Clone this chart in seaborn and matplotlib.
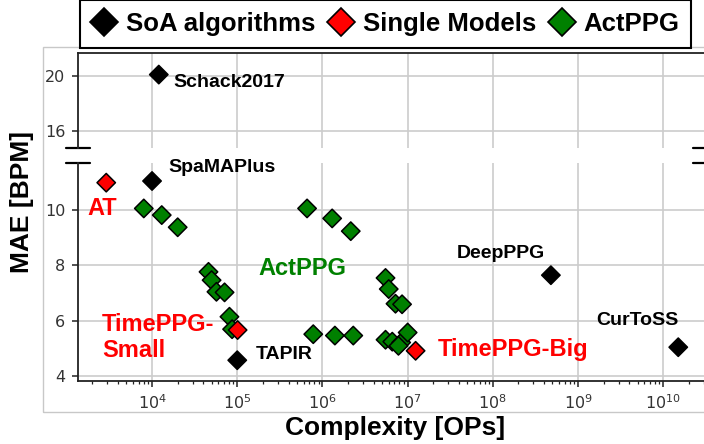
import numpy as np
import pandas as pd
import matplotlib
matplotlib.use("Agg")
import matplotlib.pyplot as plt
from matplotlib.lines import Line2D
from matplotlib.patches import Rectangle
import seaborn as sns

# данные
soa_names = ["Schack2017", "SpaMAPlus", "TAPIR", "DeepPPG", "CurToSS"]
soa_ops = [1.2e4, 1.0e4, 1.0e5, 4.8e8, 1.5e10]
soa_mae = [20.1, 11.05, 4.58, 7.65, 5.05]

single_names = ["AT", "TimePPG-Small", "TimePPG-Big"]
single_ops = [2.9e3, 1.01e5, 1.24e7]
single_mae = [10.99, 5.67, 4.92]

actppg_ops = [8.0e3, 1.3e4, 2.0e4, 4.6e4, 5.0e4, 5.7e4, 7.1e4, 8.1e4, 8.7e4,
              6.6e5, 1.3e6, 2.15e6, 7.8e5, 1.4e6, 2.3e6,
              5.5e6, 6.0e6, 7.2e6, 8.6e6, 5.5e6, 6.6e6, 8.4e6, 1.0e7, 7.8e6]
actppg_mae = [10.06, 9.82, 9.38, 7.77, 7.47, 7.05, 7.03, 6.15, 5.7,
              10.06, 9.7, 9.24, 5.52, 5.47, 5.47,
              7.55, 7.15, 6.62, 6.6, 5.32, 5.25, 5.22, 5.58, 5.1]

group_order = ["SoA algorithms", "Single Models", "ActPPG"]
colors = {"SoA algorithms": "black", "Single Models": "#ff0000", "ActPPG": "#008000"}

# подписи: (текст, x, y, цвет, размер, панель)
labels = [
    ("Schack2017", 1.77e4, 19.5, "black", 14, "top"),
    ("SpaMAPlus", 1.55e4, 11.52, "black", 14, "bot"),
    ("TAPIR", 1.66e5, 4.77, "black", 14, "bot"),
    ("DeepPPG", 3.78e7, 8.44, "black", 14, "bot"),
    ("CurToSS", 1.62e9, 6.0, "black", 14, "bot"),
    ("AT", 1.73e3, 10.07, "#ff0000", 17, "bot"),
    ("TimePPG-\nSmall", 2.6e3, 5.4, "#ff0000", 17, "bot"),
    ("TimePPG-Big", 2.25e7, 4.95, "#ff0000", 17, "bot"),
    ("ActPPG", 1.76e5, 7.9, "#008000", 17, "bot"),
]

df = pd.concat([
    pd.DataFrame({"ops": actppg_ops, "mae": actppg_mae, "group": "ActPPG"}),
    pd.DataFrame({"ops": single_ops, "mae": single_mae, "group": "Single Models"}),
    pd.DataFrame({"ops": soa_ops, "mae": soa_mae, "group": "SoA algorithms"}),
], ignore_index=True)

sns.set_style("whitegrid")
plt.rcParams["font.family"] = ["Liberation Sans", "DejaVu Sans"]
plt.rcParams["text.color"] = "black"

W, H = 704, 444
fig = plt.figure(figsize=(W / 100, H / 100), dpi=100)

left = 78 / W
width = (705 - 78) / W
ax_top = fig.add_axes([left, 1 - 148 / H, width, 95 / H])
ax_bot = fig.add_axes([left, 1 - 381 / H, width, 218 / H])

for ax in (ax_top, ax_bot):
    sns.scatterplot(data=df, x="ops", y="mae", hue="group", palette=colors,
                    marker="D", s=88, edgecolor="black", linewidth=1.1,
                    legend=False, ax=ax, zorder=3)
    ax.set_xscale("log")
    ax.set_xlim(10 ** 3.131, 10 ** 10.49)
    ax.set_xlabel("")
    ax.set_ylabel("")
    ax.grid(True, which="major", color="#cccccc", lw=1.2)
    ax.grid(False, which="minor")
    for sp in ax.spines.values():
        sp.set_color("#222222")
        sp.set_linewidth(1.3)
    ax.tick_params(axis="y", left=True, length=4, width=1.1, pad=5,
                   labelsize=11.5, labelcolor="#333333", color="#222222")

ax_top.set_ylim(14.76, 21.67)
ax_top.set_yticks([16, 20])
ax_top.spines["bottom"].set_visible(False)
ax_top.tick_params(axis="x", which="both", bottom=False, labelbottom=False)

ax_bot.set_ylim(3.83, 11.70)
ax_bot.set_yticks([4, 6, 8, 10])
ax_bot.spines["top"].set_visible(False)
ax_bot.set_xticks([1e4, 1e5, 1e6, 1e7, 1e8, 1e9, 1e10])
ax_bot.tick_params(axis="x", which="major", bottom=True, length=4, width=1.1,
                   labelsize=11.5, labelcolor="#333333", color="#222222", pad=5)
ax_bot.tick_params(axis="x", which="minor", bottom=True, length=2.5, width=0.9,
                   color="#222222")
for ax in (ax_top, ax_bot):
    for t in ax.get_yticklabels():
        t.set_fontfamily("DejaVu Sans")
for t in ax_bot.get_xticklabels():
    t.set_fontfamily("DejaVu Sans")

# значки разрыва оси
d = 12 / (705 - 78)
for x0 in (0, 1):
    ax_top.plot([x0 - d, x0 + d], [0, 0], transform=ax_top.transAxes,
                color="black", lw=1.6, clip_on=False)
    ax_bot.plot([x0 - d, x0 + d], [1, 1], transform=ax_bot.transAxes,
                color="black", lw=1.6, clip_on=False)

for text, x, y, c, fs, where in labels:
    ax = ax_top if where == "top" else ax_bot
    ax.text(x, y, text, color=c, fontsize=fs, fontweight="bold",
            ha="left", va="center", zorder=4)

# рамка вокруг области графика
fig.patches.append(Rectangle((43 / W, 1 - 412 / H), (W - 43) / W + 0.01, (412 - 47) / H,
                             transform=fig.transFigure, fill=False,
                             edgecolor="#c8c8c8", lw=1.0, zorder=0))

fig.text(395 / W, 1 - 428 / H, "Complexity [OPs]", ha="center", va="center",
         fontsize=19, fontweight="bold", color="black")
fig.text(22 / W, 1 - 202 / H, "MAE [BPM]", ha="center", va="center",
         rotation=90, fontsize=19, fontweight="bold", color="black")

handles = [Line2D([], [], linestyle="none", marker="D", markersize=14,
                  markerfacecolor=colors[g], markeredgecolor="black",
                  markeredgewidth=1.2) for g in group_order]
leg = fig.legend(handles, group_order, loc="center",
                 bbox_to_anchor=(385.5 / W, 1 - 24 / H), ncol=3,
                 prop={"family": "Liberation Sans", "weight": "bold", "size": 18.5},
                 handlelength=1.0, handletextpad=0.35, columnspacing=0.5,
                 borderpad=0.45, fancybox=False, framealpha=1)
leg.get_frame().set_edgecolor("black")
leg.get_frame().set_linewidth(1.5)
for t in leg.get_texts():
    t.set_color("black")

fig.savefig("out.png", dpi=100)
